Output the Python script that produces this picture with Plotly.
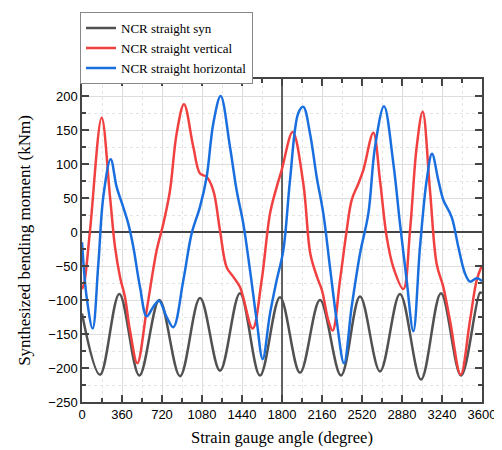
import plotly.graph_objects as go

# ---- data ----
syn_x = [0, 162, 336, 516, 696, 882, 1062, 1242, 1422, 1602, 1782, 1962, 2142,
         2331, 2502, 2682, 2862, 3051, 3231, 3411, 3582, 3600]
syn_y = [-120, -210, -91, -211, -100, -212, -97, -204, -90, -211, -96, -207, -100,
         -211, -95, -205, -91, -217, -90, -211, -89, -90]

ver_x = [0, 20, 72, 177, 252, 297, 342, 387, 432, 498, 582, 672, 732, 792, 852, 918,
         1002, 1062, 1122, 1182, 1242, 1302, 1362, 1422, 1536, 1617, 1692, 1752, 1797,
         1896, 1992, 2055, 2115, 2160, 2217, 2256, 2322, 2382, 2427, 2487, 2532, 2622,
         2682, 2742, 2802, 2892, 2952, 3012, 3066, 3132, 3192, 3252, 3312, 3408, 3492,
         3552, 3600]
ver_y = [-84, -75, 2, 168, 52, -22, -66, -96, -145, -193, -115, -27, 12, 61, 145, 188,
         125, 86, 81, 61, 2, -52, -66, -81, -142, -71, 27, 66, 91,
         147, 71, -32, -66, -86, -130, -145, -71, 2, 47, 71, 91, 146,
         76, -7, -52, -84, 2, 125, 177, 61, -47, -81, -130, -210, -130,
         -71, -49]

hor_x = [0, 42, 96, 147, 192, 258, 312, 360, 417, 462, 522, 582, 642, 693, 762, 822,
         912, 987, 1062, 1122, 1182, 1248, 1332, 1392, 1452, 1512, 1572, 1626, 1692,
         1752, 1812, 1872, 1947, 1992, 2052, 2112, 2172, 2232, 2292, 2358, 2427, 2502,
         2577, 2637, 2718, 2802, 2862, 2922, 2982, 3042, 3102, 3150, 3207, 3252, 3327,
         3387, 3447, 3492, 3552, 3600]
hor_y = [-15, -96, -142, -47, 52, 107, 66, 42, 12, -22, -81, -124, -110, -101, -125, -140,
         -71, -2, 37, 81, 160, 200, 125, 61, 12, -56, -130, -187, -120,
         -71, -27, 76, 175, 184, 145, 81, 27, -52, -130, -193, -110, -32,
         27, 125, 185, 101, 12, -71, -146, -22, 76, 115, 76, 47, 22,
         -22, -61, -73, -68, -72]

names = ["NCR straight syn", "NCR straight vertical", "NCR straight horizontal"]
colors = ["#515151", "#F14040", "#1A6FDF"]
REF_X = 1800
X_RANGE = [0, 3600]
Y_RANGE = [-250, 225]

fig = go.Figure()
# vertical reference line at 1800 degrees (drawn first, beneath the curves)
fig.add_trace(go.Scatter(x=[REF_X, REF_X], y=Y_RANGE, mode="lines", showlegend=False,
                         hoverinfo="skip", line=dict(color="#333333", width=1.5)))
for xs, ys, nm, c in [(syn_x, syn_y, names[0], colors[0]),
                      (ver_x, ver_y, names[1], colors[1]),
                      (hor_x, hor_y, names[2], colors[2])]:
    fig.add_trace(go.Scatter(x=xs, y=ys, name=nm, mode="lines",
                             line=dict(color=c, width=2.5, shape="spline", smoothing=1.0)))

axis_common = dict(
    ticks="inside", ticklen=7, tickwidth=1.5, tickcolor="#444444",
    mirror="allticks", showline=True, linecolor="#444444", linewidth=1.5,
    showgrid=True, gridcolor="#dddddd", gridwidth=1, automargin=False,
    tickfont=dict(family="Liberation Sans, Arial", size=13, color="black"),
)

fig.update_xaxes(range=X_RANGE, tick0=0, dtick=360, zeroline=False,
                 minor=dict(dtick=180, ticks="inside", ticklen=4, tickcolor="#444444",
                            showgrid=True, gridcolor="#e4e4e4", griddash="dot"),
                 title=dict(text="Strain gauge angle (degree)",
                            font=dict(family="Liberation Serif, Times New Roman", size=16.5, color="black"),
                            standoff=10),
                 **axis_common)
fig.update_yaxes(range=Y_RANGE, tick0=0, dtick=50,
                 zeroline=True, zerolinecolor="#444444", zerolinewidth=1.5,
                 minor=dict(dtick=25, ticks="inside", ticklen=4, tickcolor="#444444",
                            showgrid=True, gridcolor="#e4e4e4", griddash="dot"),
                 title=dict(text="Synthesized bending moment (kNm)",
                            font=dict(family="Liberation Serif, Times New Roman", size=17, color="black"),
                            standoff=13),
                 **axis_common)

fig.update_layout(
    width=494, height=442,
    margin=dict(l=74, r=20, t=71, b=48, autoexpand=False),
    paper_bgcolor="white", plot_bgcolor="white",
    showlegend=True,
    legend=dict(x=-0.005, y=1.207, xanchor="left", yanchor="top",
                bordercolor="#888888", borderwidth=1, bgcolor="white",
                font=dict(family="Liberation Serif, Times New Roman", size=13, color="black"),
                itemwidth=30, tracegroupgap=0),
)

fig.write_html("out.html")
